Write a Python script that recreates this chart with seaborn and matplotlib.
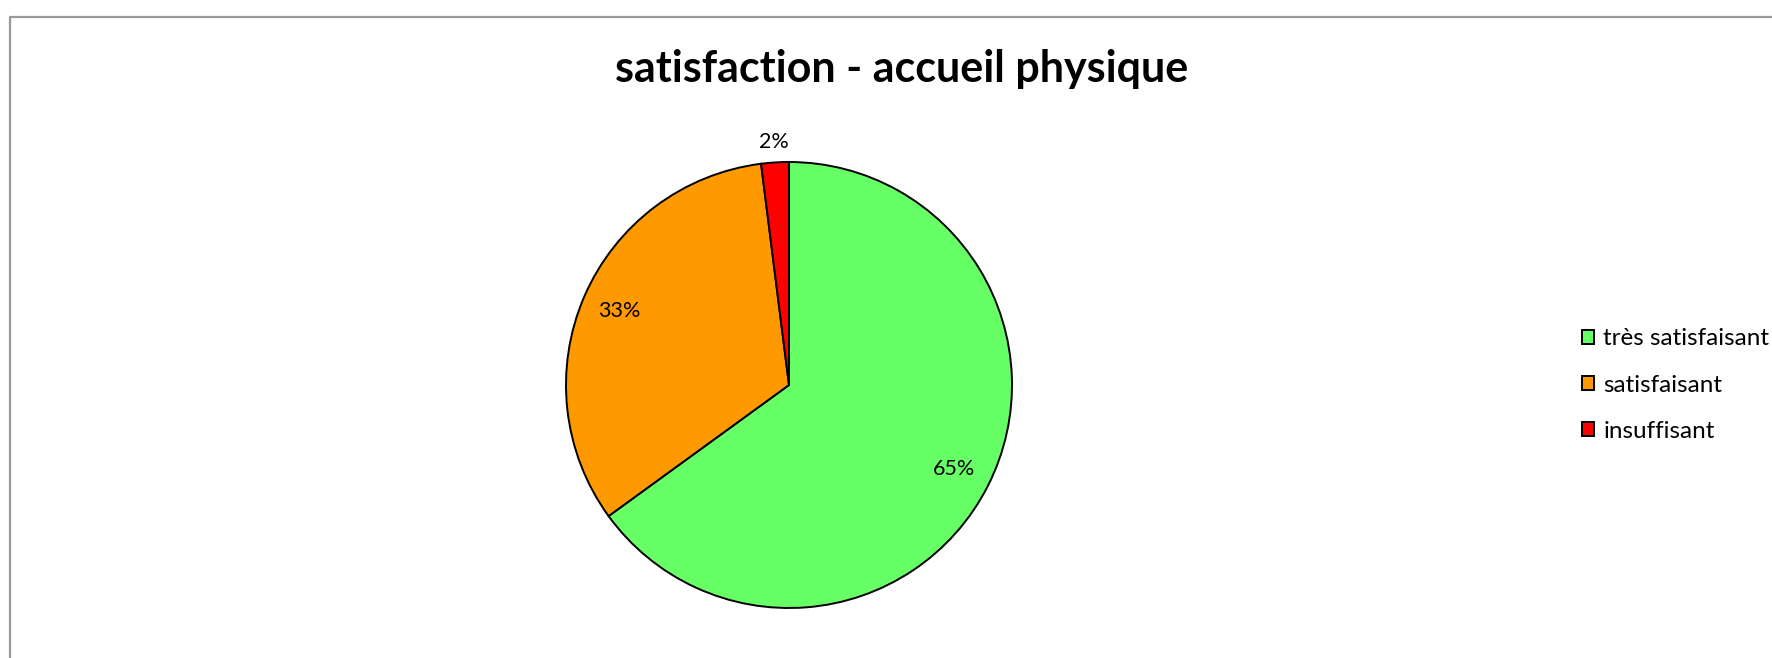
import numpy as np
import seaborn as sns
import matplotlib.pyplot as plt
from matplotlib.lines import Line2D

# --- Données ---
categories = ['très satisfaisant', 'satisfaisant', 'insuffisant']
values = [65, 33, 2]
colors = ['#66FF66', '#FF9900', '#FF0000']
title = 'satisfaction - accueil physique'

W, H = 1772, 658

sns.set_theme(style='white')
plt.rcParams['font.family'] = ['Lato', 'DejaVu Sans']
plt.rcParams['text.color'] = 'black'

fig = plt.figure(figsize=(W / 100, H / 100), dpi=100)
fig.patch.set_facecolor('white')

# cadre gris (haut + gauche)
fig.add_artist(Line2D([10 / W, 10 / W, 1.0], [0.0, 1 - 17 / H, 1 - 17 / H],
                      transform=fig.transFigure, color='#999999', lw=1.6))

# --- Camembert ---
cx, cy, r = 789, 385, 223
ax = fig.add_axes([(cx - r) / W, 1 - (cy + r) / H, 2 * r / W, 2 * r / H])
wedges, texts, autotexts = ax.pie(
    values, colors=colors, startangle=90, counterclock=False,
    autopct='%1.0f%%', pctdistance=0.83,
    wedgeprops=dict(edgecolor='black', linewidth=1.4),
    textprops=dict(fontsize=15.5, color='black'))
ax.set_xlim(-1, 1)
ax.set_ylim(-1, 1)
ax.set_aspect('auto')
ax.axis('off')

# petite part : étiquette à l'extérieur
w, t = wedges[2], autotexts[2]
mid = np.deg2rad((w.theta1 + w.theta2) / 2)
t.set_position((1.09 * np.cos(mid), 1.09 * np.sin(mid)))

fig.text(902 / W, 1 - 69 / H, title, ha='center', va='center',
         fontsize=31, fontweight='bold', color='black')

fig.legend(wedges, categories, loc='center left',
           bbox_to_anchor=(1582 / W, 1 - 385 / H), frameon=False,
           fontsize=17.5, handlelength=0.5, handleheight=0.5,
           handletextpad=0.37, labelspacing=1.03, borderpad=0,
           borderaxespad=0, labelcolor='black')

fig.savefig('out.png', dpi=100, facecolor='white')
